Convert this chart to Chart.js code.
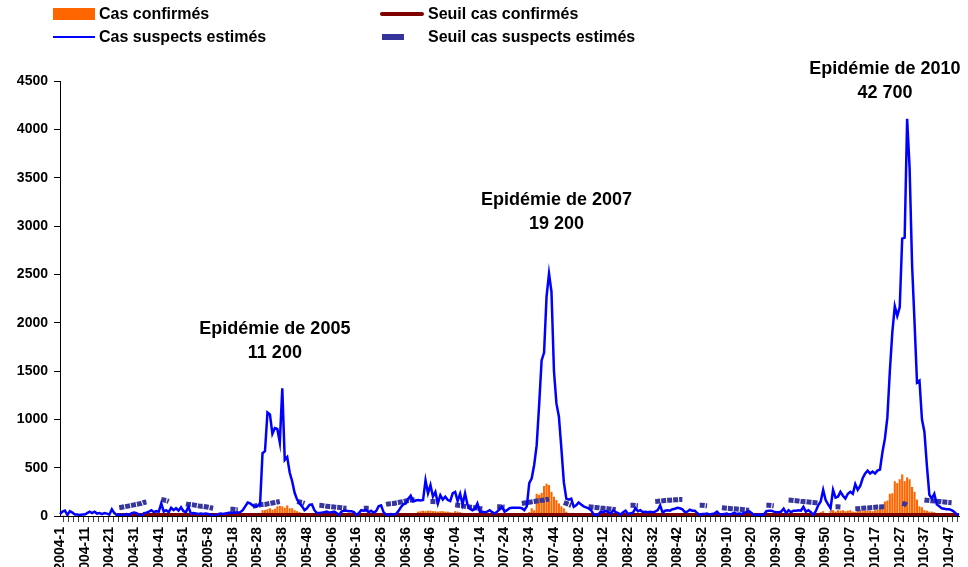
<!DOCTYPE html>
<html>
<head>
<meta charset="utf-8">
<script src="https://cdn.jsdelivr.net/npm/chart.js@4/dist/chart.umd.min.js"></script>
<style>
  html, body { margin: 0; padding: 0; background: #fff; overflow: hidden; }
  #wrap { position: relative; width: 968px; height: 567px; overflow: hidden; }
  #chart { position: absolute; left: 0; top: 0; }
  .leg { position: absolute; height: 20px; display: flex; align-items: center;
         font: bold 16px "Liberation Sans", Arial, sans-serif; color: #000; white-space: nowrap; }
  .sym { display: inline-block; margin-right: 4px; }
</style>
</head>
<body>
<div id="wrap">
  <canvas id="chart" width="968" height="585"></canvas>
  <div id="legend"></div>
</div>
<script>
// weeks per year (ISO), 2010 stops at week 51
const years = [2004, 2005, 2006, 2007, 2008, 2009, 2010];
const weeksPerYear = [53, 52, 52, 52, 52, 53, 51];

const weeks = [];
years.forEach((yr, i) => {
  for (let w = 1; w <= weeksPerYear[i]; w++) {
    weeks.push(yr < 2006 ? yr + '-' + w : yr + '-' + String(w).padStart(2, '0'));
  }
});

// Cas suspects estimés (blue line)
const suspects2004 = [20,45,55,10,50,35,15,15,10,15, 15,30,45,30,45,25,30,20,30,25, 15,70,30,10,15,5,15,20,10,30, 35,30,15,0,30,35,45,60,40,50, 45,130,45,60,40,85,60,80,55,90, 50,40,95];
const suspects2005 = [25,30,25,20,25,20,25,20,15,5, 0,20,25,20,25,30,35,30,35,35, 40,60,100,140,130,110,100,105,120,650, 670,1070,1050,850,910,900,760,1320,580,610, 450,360,240,170,130,100,60,80,115,120, 60,30];
const suspects2006 = [30,35,40,45,35,40,45,30,10,45, 55,55,50,50,40,10,30,60,55,60, 40,55,35,50,100,110,40,15,10,20, 15,20,50,90,120,130,180,210,150,160, 165,160,165,370,235,320,200,250,130,215, 170,200];
const suspects2007 = [165,155,235,250,155,230,120,235,115,75, 60,75,130,45,45,40,45,60,40,25, 45,70,95,45,60,80,85,85,85,85, 80,60,100,340,390,530,730,1150,1610,1690, 2270,2510,2320,1500,1165,1030,700,350,180,170, 180,95];
const suspects2008 = [110,140,120,100,90,80,60,20,0,20, 45,40,50,40,25,60,40,30,15,40, 55,20,30,35,80,50,60,40,45,40, 45,40,45,60,110,35,55,60,55,70, 75,85,80,70,40,45,65,55,55,30, 10,20];
const suspects2009 = [20,25,15,20,25,45,20,15,20,25, 15,20,35,20,25,20,35,40,50,30, 10,10,15,10,15,50,55,55,45,40, 40,45,75,30,60,40,55,55,60,55, 95,45,60,40,10,50,110,150,270,165, 120,80,270];
const suspects2010 = [190,200,250,210,180,230,250,230,330,270, 310,390,440,470,440,460,440,470,480,660, 800,1020,1500,1900,2170,2070,2160,2870,2880,4110, 3600,2600,2000,1380,1400,1000,870,520,220,180, 230,120,100,80,75,70,70,60,45,20, 10];

// Cas confirmés (orange bars)
const confirmes2004 = [5,10,8,5,5,5,5,5,5,5, 5,5,5,5,5,5,5,5,5,5, 5,5,5,10,10,10,10,10,10,10, 10,10,10,10,10,10,10,15,15,15, 15,15,15,15,15,15,15,15,15,15, 15,15,15];
const confirmes2005 = [15,15,15,15,15,15,15,15,15,15, 15,15,15,15,15,15,15,15,15,15, 15,15,15,15,15,15,15,15,30,60, 62,70,80,65,75,100,105,100,85,110, 80,80,60,50,40,30,20,15,15,15, 15,15];
const confirmes2006 = [15,15,15,15,15,15,15,15,15,15, 15,15,15,15,15,15,15,15,15,15, 15,15,15,15,15,15,15,15,15,15, 15,15,15,15,15,15,15,15,15,15, 45,50,55,50,55,55,50,50,45,50, 50,45];
const confirmes2007 = [45,40,35,50,45,40,15,15,15,15, 15,15,15,15,15,15,15,15,15,15, 15,15,15,15,15,15,15,15,15,15, 15,15,20,40,80,60,230,220,240,310, 335,320,250,200,165,130,100,80,45,20, 15,15];
const confirmes2008 = [10,10,10,10,10,10,10,10,10,10, 10,10,10,10,10,10,10,10,10,10, 10,10,10,10,10,10,10,10,10,10, 10,10,10,10,10,10,10,10,10,10, 10,10,10,10,10,10,10,10,10,10, 10,10];
const confirmes2009 = [10,10,10,10,10,10,10,10,10,10, 10,10,10,10,10,10,10,10,10,10, 10,10,10,10,10,10,10,10,10,10, 10,10,10,10,10,10,10,10,10,10, 10,10,10,10,10,10,10,40,50,30, 20,55,60];
const confirmes2010 = [45,60,55,60,50,55,60,45,40,55, 60,50,55,60,55,50,60,65,100,110, 150,160,230,235,360,340,380,430,360,400, 380,300,250,170,100,90,60,55,45,45, 40,30,25,20,15,15,10,10,10,5, 5];

// Seuil cas confirmés (dark red line)
const seuilConf2004 = [null,null,null,null,null,null,null,null,null,null, null,null,null,null,null,null,null,null,null,null, null,null,null,10,10,10,10,10,10,10, 10,10,10,10,10,10,10,10,10,10, 10,10,10,10,10,10,10,10,10,10, 10,10,10];
const seuilConf2005 = [10,10,10,10,10,10,10,10,10,10, 10,10,10,10,10,10,10,10,10,10, 10,10,10,10,10,10,10,10,10,10, 10,10,10,10,10,10,10,10,10,10, 10,10,10,10,10,10,10,10,10,10, 10,10];
const seuilConf2006 = [10,10,10,10,10,10,10,10,10,10, 10,10,10,10,10,10,10,10,10,10, 10,10,10,10,10,10,10,10,10,10, 10,10,10,10,10,10,10,10,10,10, 10,10,10,10,10,10,10,10,10,10, 10,10];
const seuilConf2007 = [10,10,10,10,10,10,10,10,10,10, 10,10,10,10,10,10,10,10,10,10, 10,10,10,10,10,10,10,10,10,10, 10,10,10,10,10,10,10,10,10,10, 10,10,10,10,10,10,10,10,10,10, 10,10];
const seuilConf2008 = [10,10,10,10,10,10,10,10,10,10, 10,10,10,10,10,10,10,10,10,10, 10,10,10,10,10,10,10,10,10,10, 10,10,10,10,10,10,10,10,10,10, 10,10,10,10,10,10,10,10,10,10, 10,10];
const seuilConf2009 = [10,10,10,10,10,10,10,10,10,10, 10,10,10,10,10,10,10,10,10,10, 10,10,10,10,10,10,10,10,10,10, 10,10,10,10,10,10,10,10,10,10, 10,10,10,10,10,10,10,10,10,10, 10,10,10];
const seuilConf2010 = [10,10,10,10,10,10,10,10,10,10, 10,10,10,10,10,10,10,10,10,10, 10,10,10,10,10,10,10,10,10,10, 10,10,10,10,10,10,10,10,10,10, 10,10,10,10,10,10,10,10,10,10, 10];

// Seuil cas suspects estimés (dashed, shown only on some weeks)
const N = null;
const seuilSusp2004 = [N,N,N,N,N,N,N,N,N,N, N,N,N,N,N,N,N,N,N,N, N,N,N,N,85,90,95,100,105,110, 115,120,125,130,140,145,N,N,N,N, N,170,165,160,150,N,N,N,N,N, N,125,120];
const seuilSusp2005 = [118,115,110,105,100,100,95,90,85,80, N,N,N,N,N,N,70,70,65,65, N,N,N,N,N,100,105,110,115,118, 120,125,130,135,140,145,150,N,N,N, N,N,N,150,145,140,130,N,N,N, N,N];
const seuilSusp2006 = [110,108,105,100,98,95,92,90,88,85, 82,80,N,N,N,N,N,N,80,80, 80,N,N,N,N,N,N,120,125,128, 130,135,140,145,150,155,160,165,168,170, N,N,N,N,N,150,150,148,145,N, N,N];
const seuilSusp2007 = [N,N,N,115,112,108,105,100,97,93, 90,86,82,78,75,N,N,N,N,N, 95,95,93,92,N,N,N,N,N,N, 130,135,138,142,146,150,155,158,162,165, 170,175,N,N,N,N,N,140,130,120, 110,N];
const seuilSusp2008 = [N,N,N,N,N,95,93,90,88,85, 82,80,78,75,73,70,68,N,N,N, N,N,110,110,108,105,N,N,N,N, N,N,150,152,155,157,160,162,164,166, 168,168,170,170,N,N,N,N,N,N, 110,110];
const seuilSusp2009 = [108,105,N,N,N,N,N,85,83,80, 78,76,74,72,70,68,65,62,60,N, N,N,N,N,N,110,110,108,105,N, N,N,N,N,165,163,160,158,155,152, 150,148,145,142,140,138,135,N,N,N, N,N,N];
const seuilSusp2010 = [95,95,93,N,N,N,N,N,75,76, 78,80,82,84,86,88,90,92,93,95, 95,N,N,N,N,N,N,130,125,110, N,N,N,N,N,N,165,162,160,157, 155,152,150,147,145,142,140,138,N,N, N];

const casSuspects = [].concat(suspects2004, suspects2005, suspects2006, suspects2007, suspects2008, suspects2009, suspects2010);
const casConfirmes = [].concat(confirmes2004, confirmes2005, confirmes2006, confirmes2007, confirmes2008, confirmes2009, confirmes2010);
const seuilConfirmes = [].concat(seuilConf2004, seuilConf2005, seuilConf2006, seuilConf2007, seuilConf2008, seuilConf2009, seuilConf2010);
const seuilSuspects = [].concat(seuilSusp2004, seuilSusp2005, seuilSusp2006, seuilSusp2007, seuilSusp2008, seuilSusp2009, seuilSusp2010);

// epidemic captions: anchored on a week and a value
const epidemics = [
  { week: '2005-35', value: 1930, title: 'Epidémie de 2005', total: '11 200' },
  { week: '2007-45', value: 3270, title: 'Epidémie de 2007', total: '19 200' },
  { week: '2010-21', value: 4620, title: 'Epidémie de 2010', total: '42 700' }
];

const FONT = '"Liberation Sans", Arial, sans-serif';

const captions = {
  id: 'captions',
  afterDatasetsDraw(chart) {
    const { ctx, scales: { x, y } } = chart;
    ctx.save();
    ctx.font = 'bold 18px ' + FONT;
    ctx.fillStyle = '#000';
    ctx.textAlign = 'center';
    ctx.textBaseline = 'middle';
    epidemics.forEach(e => {
      const px = x.getPixelForValue(weeks.indexOf(e.week));
      const py = y.getPixelForValue(e.value);
      ctx.fillText(e.title, px, py);
      ctx.fillText(e.total, px, py + 24);
    });
    ctx.restore();
  }
};

const chart = new Chart(document.getElementById('chart'), {
  type: 'bar',
  data: {
    labels: weeks,
    datasets: [
      { type: 'line', label: 'Cas suspects estimés', data: casSuspects,
        borderColor: '#0000FF', borderWidth: 2.5, pointRadius: 0, order: 0 },
      { type: 'line', label: 'Seuil cas suspects estimés', data: seuilSuspects,
        borderColor: '#36369c', borderWidth: 5, borderDash: [5, 1], pointRadius: 0, order: 1 },
      { type: 'line', label: 'Seuil cas confirmés', data: seuilConfirmes,
        borderColor: '#800000', borderWidth: 4, pointRadius: 0, order: 2 },
      { type: 'bar', label: 'Cas confirmés', data: casConfirmes,
        backgroundColor: '#FF6600', barPercentage: 0.85, categoryPercentage: 1, order: 3 }
    ]
  },
  options: {
    responsive: false,
    animation: false,
    layout: { padding: { top: 81, right: 9, left: 0, bottom: 0 } },
    plugins: { legend: { display: false }, tooltip: { enabled: false } },
    scales: {
      x: {
        offset: false,
        border: { color: '#000', width: 1 },
        grid: {
          drawOnChartArea: false,
          tickLength: 6,
          color: c => (c.index % 2 === 0 ? '#444' : 'rgba(0,0,0,0)')
        },
        ticks: {
          autoSkip: false,
          minRotation: 90,
          maxRotation: 90,
          padding: 5,
          color: '#000',
          font: { family: FONT, size: 14, weight: 'bold' },
          callback: (v, i) => (i % 10 === 0 ? weeks[i] : '')
        },
        afterFit: s => {
          s.height = 69;
          s.paddingLeft = 0;
          s.paddingRight = 0;
        }
      },
      y: {
        min: 0,
        max: 4500,
        border: { color: '#000', width: 1 },
        grid: { drawOnChartArea: false, tickLength: 6, color: '#000' },
        ticks: {
          stepSize: 500,
          padding: 6,
          color: '#000',
          font: { family: FONT, size: 14, weight: 'bold' },
          callback: v => String(v)
        },
        afterFit: s => { s.width = 60; }
      }
    }
  },
  plugins: [captions]
});

// legend laid out like the original (two columns, two rows)
const legendPlaces = [
  { ds: 3, left: 53, top: 4, sym: 'background:#FF6600;width:42px;height:12px', symW: 46 },
  { ds: 2, left: 380, top: 4, sym: 'background:#800000;width:44px;height:4px;border-radius:2px', symW: 48 },
  { ds: 0, left: 53, top: 27, sym: 'background:#0000FF;width:42px;height:2px', symW: 46 },
  { ds: 1, left: 382, top: 27, sym: 'background:#333399;width:22px;height:6px', symW: 46 }
];
const legend = document.getElementById('legend');
legendPlaces.forEach(p => {
  const item = document.createElement('div');
  item.className = 'leg';
  item.style.left = p.left + 'px';
  item.style.top = p.top + 'px';
  const box = document.createElement('span');
  box.style.cssText = 'display:inline-block;width:' + p.symW + 'px';
  const sym = document.createElement('span');
  sym.className = 'sym';
  sym.style.cssText += p.sym + ';display:block';
  box.appendChild(sym);
  const txt = document.createElement('span');
  txt.textContent = chart.data.datasets[p.ds].label;
  item.appendChild(box);
  item.appendChild(txt);
  legend.appendChild(item);
});
</script>
</body>
</html>
